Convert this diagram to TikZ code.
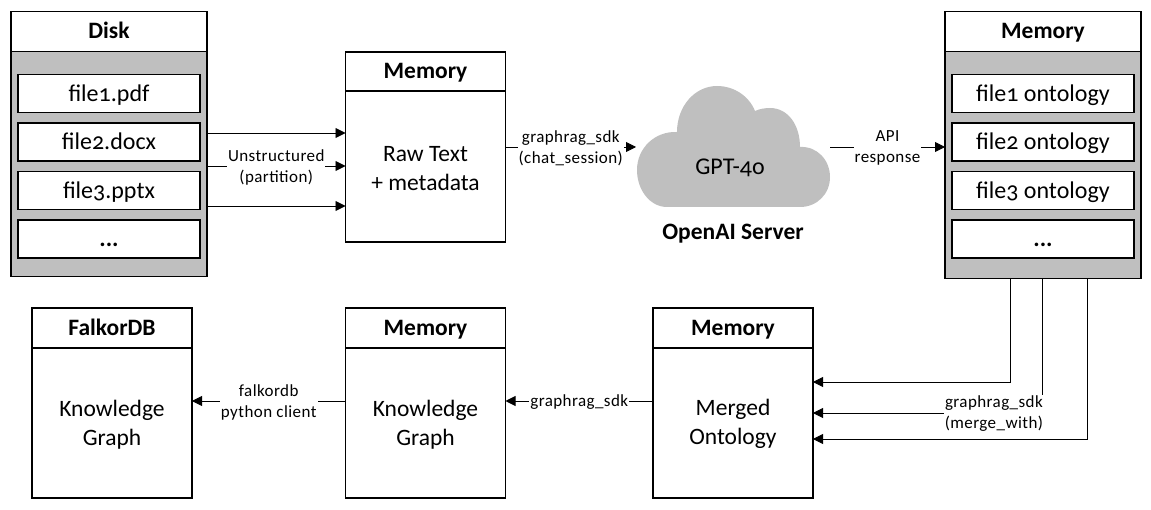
\documentclass[tikz,border=0pt]{standalone}
\usepackage{fontspec}
\setmainfont[Numbers=OldStyle]{Carlito}
\usetikzlibrary{arrows.meta,positioning}
\definecolor{boxgray}{HTML}{BFBFBF}

\begin{document}
\begin{tikzpicture}[x=1pt,y=-1pt,>={Triangle[length=10pt,width=10pt]},
    outer sep=0pt,inner sep=1pt,
    boxline/.style={draw,line width=1.6pt},
    head/.style={boxline,fill=white,minimum width=#1,minimum height=40pt,text height=18pt,text depth=3pt,font=\fontsize{23.5}{26}\selectfont\bfseries},
    body/.style={boxline,fill=white,minimum width=160pt,minimum height=150pt,align=center,text height=48pt,font=\fontsize{23.5}{29}\selectfont},
    store/.style={boxline,fill=boxgray,minimum width=196pt},
    file/.style={boxline,fill=white,minimum width=182pt,minimum height=38pt,text height=19pt,text depth=3pt,font=\fontsize{24}{28}\selectfont},
    conn/.style={->,line width=0.9pt},
    note/.style={fill=white,align=center,yshift=-1pt,font=\fontsize{17}{21}\selectfont\addfontfeature{LetterSpace=2.5}}]
  \useasboundingbox (0,0) rectangle (1151,510);

  % top row, left
  \node[head=196pt] (diskhead) at (109,31.5) {Disk};
  \node[store,minimum height=225pt,below=0pt of diskhead] (disk) {};
  \node[file,below=23pt of diskhead] (file1) {file1.pdf};
  \node[file,below=10.5pt of file1] (file2) {file2.docx};
  \node[file,below=10.5pt of file2] (file3) {file3.pptx};
  \node[file,below=10.5pt of file3] (file4) {\textbf{...}};

  \node[head=160pt,minimum height=39pt] (rawhead) at (425.5,71.5) {Memory};
  \node[body,minimum height=151pt,below=0pt of rawhead] (raw) {Raw Text\\+ metadata};

  % cloud
  \fill[boxgray] (667,207) .. controls (650,207) and (637,190) .. (637,170)
    .. controls (637,148) and (655,131) .. (677,132)
    .. controls (677,106) and (695,86) .. (717,86)
    .. controls (734,86) and (749,96) .. (755,111)
    .. controls (759,109) and (765,108) .. (770,108)
    .. controls (788,108) and (800,125) .. (800,147)
    .. controls (817,146) and (830,160) .. (830,177)
    .. controls (830,194) and (817,207) .. (800,207) -- cycle;
  \node[font=\fontsize{24}{26}\selectfont] (gpt) at (730,167.5) {GPT-4o};
  \node[font=\fontsize{23.5}{26}\selectfont\bfseries] (server) at (733,233.5) {OpenAI Server};
  \coordinate (cloudw) at (636,147);
  \coordinate (cloude) at (830,147);

  % top row, right
  \node[head=196pt] (ontohead) at (1043,31.5) {Memory};
  \node[store,minimum height=227pt,below=0pt of ontohead] (onto) {};
  \node[file,below=23pt of ontohead] (onto1) {file1 ontology};
  \node[file,below=10.5pt of onto1] (onto2) {file2 ontology};
  \node[file,below=10.5pt of onto2] (onto3) {file3 ontology};
  \node[file,below=10.5pt of onto3] (onto4) {\textbf{...}};

  % bottom row
  \node[head=160pt] (mergedhead) at (733,328) {Memory};
  \node[body,below=0pt of mergedhead] (merged) {Merged\\Ontology};
  \node[head=160pt] (graphhead) at (425.5,328) {Memory};
  \node[body,below=0pt of graphhead] (graph) {Knowledge\\Graph};
  \node[head=160pt] (dbhead) at (112,328) {FalkorDB};
  \node[body,below=0pt of dbhead] (db) {Knowledge\\Graph};

  % connectors
  \draw[conn] ([yshift=31pt]disk.east) -- ([yshift=33.5pt]raw.west);
  \draw[conn] ([yshift=-2pt]disk.east) -- node[note] {Unstructured\\(partition)} ([yshift=0.5pt]raw.west);
  \draw[conn] ([yshift=-42pt]disk.east) -- ([yshift=-39.5pt]raw.west);
  \draw[conn] ([yshift=19.5pt]raw.east) -- node[note] {graphrag\_sdk\\(chat\_session)} (cloudw);
  \draw[conn] (cloude) -- node[note] {API\\response} ([yshift=18pt]onto.west);
  \draw[conn] ([xshift=-33pt]onto.south) |- ([yshift=41pt]merged.east);
  \draw[conn] ([xshift=-1pt]onto.south) |- node[note,pos=0.605] {graphrag\_sdk\\(merge\_with)} ([yshift=10pt]merged.east);
  \draw[conn] ([xshift=44pt]onto.south) |- ([yshift=-16pt]merged.east);
  \draw[conn] ([yshift=22pt]merged.west) -- node[note] {graphrag\_sdk} ([yshift=22pt]graph.east);
  \draw[conn] ([yshift=22pt]graph.west) -- node[note] {falkordb\\python client} ([yshift=22pt]db.east);
\end{tikzpicture}
\end{document}
